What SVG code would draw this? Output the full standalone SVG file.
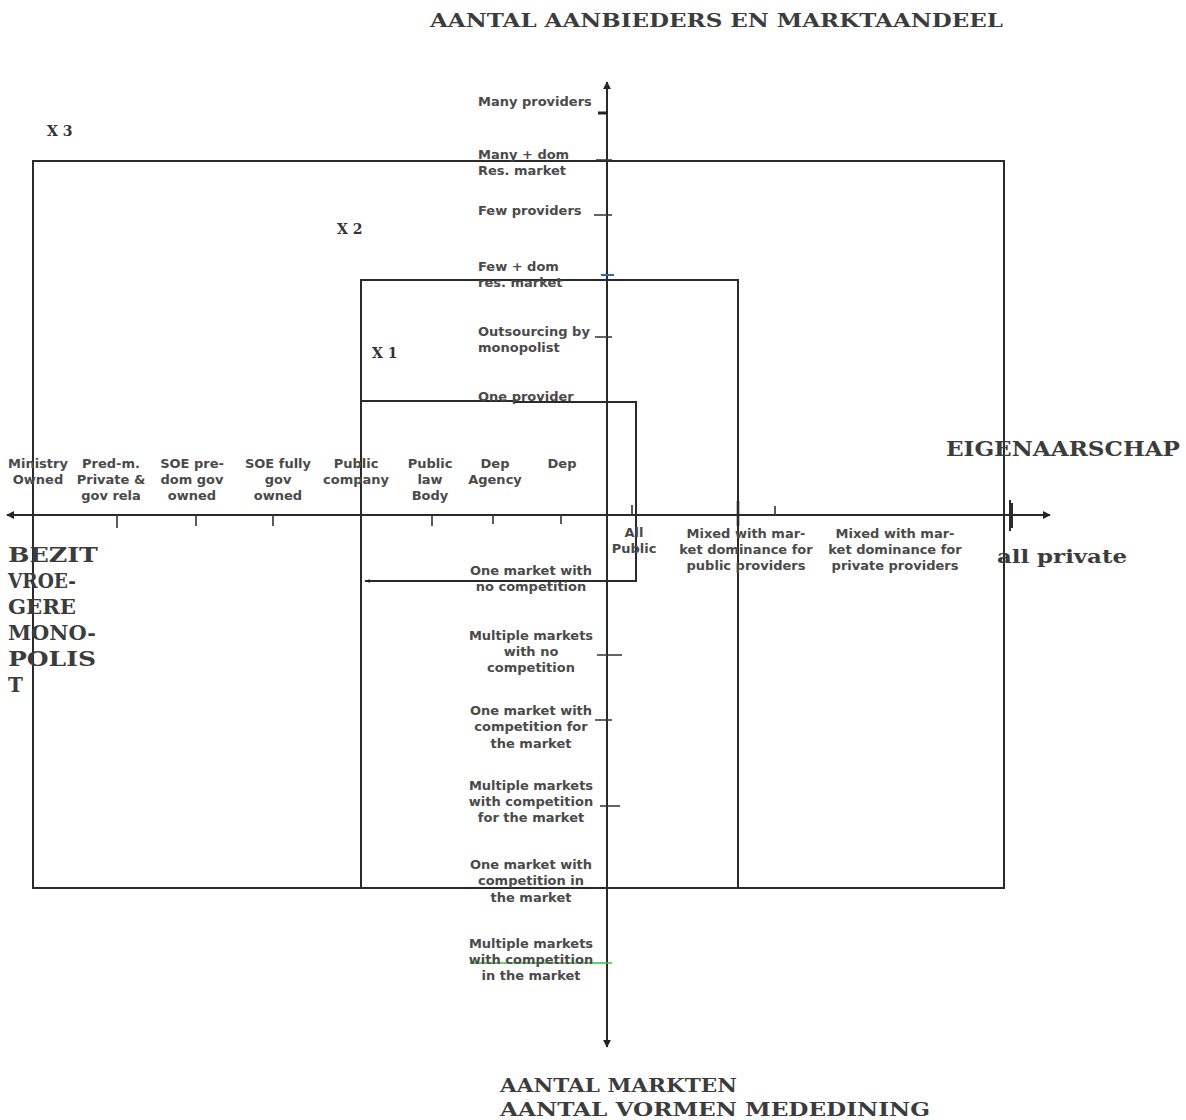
<svg xmlns="http://www.w3.org/2000/svg" width="1186" height="1120" viewBox="0 0 1186 1120">
<defs>
<style>
.bg{fill:#ffffff}
.ln{stroke:#2a2a2a;stroke-width:2;fill:none}
.tk{stroke:#333;stroke-width:1.6;fill:none}
.lbl{font-family:"DejaVu Sans","Liberation Sans",sans-serif;font-size:13px;font-weight:bold;fill:#4a4a4a}
.mid{text-anchor:middle}
.big{font-family:"DejaVu Serif","Liberation Serif",serif;font-weight:bold;fill:#3c3c3c}
.xl{font-family:"DejaVu Serif","Liberation Serif",serif;font-weight:bold;font-size:14px;fill:#333}
</style>
<marker id="ah" viewBox="0 0 10 10" refX="9" refY="5" markerWidth="8" markerHeight="8" orient="auto" markerUnits="userSpaceOnUse">
<path d="M0,0 L10,5 L0,10 z" fill="#222"/>
</marker>
<marker id="ahs" viewBox="0 0 10 10" refX="9" refY="5" markerWidth="6" markerHeight="6" orient="auto" markerUnits="userSpaceOnUse">
<path d="M0,2 L10,5 L0,8 z" fill="#222"/>
</marker>
</defs>
<rect class="bg" x="0" y="0" width="1186" height="1120"/>

<g id="connectors">
<!-- axes -->
<line class="ln" x1="607" y1="1046" x2="607" y2="82" marker-end="url(#ah)"/>
<line class="ln" x1="607" y1="84" x2="607" y2="1047" marker-end="url(#ah)"/>
<line class="ln" x1="1049" y1="515" x2="7" y2="515" marker-end="url(#ah)"/>
<line class="ln" x1="9" y1="515" x2="1050" y2="515" marker-end="url(#ah)"/>
<!-- boxes -->
<rect class="ln" x="33" y="161" width="971" height="727"/>
<rect class="ln" x="361" y="280" width="377" height="608"/>
<path class="ln" d="M362 401 L515 401 L515 402 L636 402 L636 581 L365 581" marker-end="url(#ahs)"/>
<!-- horizontal ticks -->
<path class="tk" d="M117 515 V528 M196 515 V526 M273 515 V526 M432 515 V526 M493 515 V524 M561 515 V524 M632 505 V516 M775 506 V516"/>
<path class="ln" d="M738 501 V526" style="stroke-width:2.6"/>
<path class="ln" d="M1010 500 V531 M1012 503 V528"/>
<!-- vertical ticks -->
<path class="tk" d="M596 160 H612 M594 215 H612 M595 337 H612 M597 655 H622 M595 720 H612 M600 806 H620"/>
<line x1="601" y1="275" x2="614" y2="275" stroke="#3a62b8" stroke-width="2"/>
<line x1="470" y1="963" x2="612" y2="963" stroke="#3cbf3c" stroke-width="1.5"/>
<line x1="598" y1="113" x2="607" y2="113" stroke="#222" stroke-width="3"/>
</g>

<g id="title-top"><text class="big" x="430" y="27" font-size="18" textLength="573" lengthAdjust="spacingAndGlyphs">AANTAL AANBIEDERS  EN  MARKTAANDEEL</text></g>
<g id="title-bottom">
<text class="big" x="500" y="1092" font-size="18" textLength="237" lengthAdjust="spacingAndGlyphs">AANTAL MARKTEN</text>
<text class="big" x="500" y="1116" font-size="18" textLength="430" lengthAdjust="spacingAndGlyphs">AANTAL VORMEN MEDEDINING</text>
</g>
<g id="eigenaarschap"><text class="big" x="946" y="456" font-size="20" textLength="234" lengthAdjust="spacingAndGlyphs">EIGENAARSCHAP</text></g>
<g id="all-private"><text class="big" x="997" y="563" font-size="18" textLength="130" lengthAdjust="spacingAndGlyphs">all private</text></g>
<g id="bezit">
<text class="big" font-size="20" x="8" y="562" textLength="90" lengthAdjust="spacingAndGlyphs">BEZIT</text>
<text class="big" font-size="20" x="8" y="588" textLength="68" lengthAdjust="spacingAndGlyphs">VROE-</text>
<text class="big" font-size="20" x="8" y="614" textLength="68" lengthAdjust="spacingAndGlyphs">GERE</text>
<text class="big" font-size="20" x="8" y="640" textLength="88" lengthAdjust="spacingAndGlyphs">MONO-</text>
<text class="big" font-size="20" x="8" y="666" textLength="88" lengthAdjust="spacingAndGlyphs">POLIS</text>
<text class="big" font-size="20" x="8" y="692">T</text>
</g>
<g id="x3"><text class="xl" x="47" y="136">X 3</text></g>
<g id="x2"><text class="xl" x="337" y="234">X 2</text></g>
<g id="x1"><text class="xl" x="372" y="358" font-size="12">X 1</text></g>

<!-- vertical axis upper labels -->
<g id="v-many"><text class="lbl" x="478" y="106">Many providers</text></g>
<g id="v-many-dom"><text class="lbl" x="478" y="159">Many + dom</text><text class="lbl" x="478" y="175">Res. market</text></g>
<g id="v-few"><text class="lbl" x="478" y="215">Few providers</text></g>
<g id="v-few-dom"><text class="lbl" x="478" y="271">Few + dom</text><text class="lbl" x="478" y="287">res. market</text></g>
<g id="v-outsourcing"><text class="lbl" x="478" y="336">Outsourcing by</text><text class="lbl" x="478" y="352">monopolist</text></g>
<g id="v-one"><text class="lbl" x="478" y="401">One provider</text></g>

<!-- vertical axis lower labels -->
<g id="v-m1"><text class="lbl mid" x="531" y="575">One market with</text><text class="lbl mid" x="531" y="591">no competition</text></g>
<g id="v-m2"><text class="lbl mid" x="531" y="640">Multiple markets</text><text class="lbl mid" x="531" y="656">with no</text><text class="lbl mid" x="531" y="672">competition</text></g>
<g id="v-m3"><text class="lbl mid" x="531" y="715">One market with</text><text class="lbl mid" x="531" y="731">competition for</text><text class="lbl mid" x="531" y="748">the market</text></g>
<g id="v-m4"><text class="lbl mid" x="531" y="790">Multiple markets</text><text class="lbl mid" x="531" y="806">with competition</text><text class="lbl mid" x="531" y="822">for the market</text></g>
<g id="v-m5"><text class="lbl mid" x="531" y="869">One market with</text><text class="lbl mid" x="531" y="885">competition in</text><text class="lbl mid" x="531" y="902">the market</text></g>
<g id="v-m6"><text class="lbl mid" x="531" y="948">Multiple markets</text><text class="lbl mid" x="531" y="964">with competition</text><text class="lbl mid" x="531" y="980">in the market</text></g>

<!-- horizontal axis labels -->
<g id="h-ministry"><text class="lbl mid" x="38" y="468">Ministry</text><text class="lbl mid" x="38" y="484">Owned</text></g>
<g id="h-predm"><text class="lbl mid" x="111" y="468">Pred-m.</text><text class="lbl mid" x="111" y="484">Private &amp;</text><text class="lbl mid" x="111" y="500">gov rela</text></g>
<g id="h-soe-pre"><text class="lbl mid" x="192" y="468">SOE pre-</text><text class="lbl mid" x="192" y="484">dom gov</text><text class="lbl mid" x="192" y="500">owned</text></g>
<g id="h-soe-fully"><text class="lbl mid" x="278" y="468">SOE fully</text><text class="lbl mid" x="278" y="484">gov</text><text class="lbl mid" x="278" y="500">owned</text></g>
<g id="h-public-company"><text class="lbl mid" x="356" y="468">Public</text><text class="lbl mid" x="356" y="484">company</text></g>
<g id="h-public-law"><text class="lbl mid" x="430" y="468">Public</text><text class="lbl mid" x="430" y="484">law</text><text class="lbl mid" x="430" y="500">Body</text></g>
<g id="h-dep-agency"><text class="lbl mid" x="495" y="468">Dep</text><text class="lbl mid" x="495" y="484">Agency</text></g>
<g id="h-dep"><text class="lbl mid" x="562" y="468">Dep</text></g>
<g id="h-all-public"><text class="lbl mid" x="634" y="537">All</text><text class="lbl mid" x="634" y="553">Public</text></g>
<g id="h-mixed-public"><text class="lbl mid" x="746" y="538">Mixed with mar-</text><text class="lbl mid" x="746" y="554">ket dominance for</text><text class="lbl mid" x="746" y="570">public providers</text></g>
<g id="h-mixed-private"><text class="lbl mid" x="895" y="538">Mixed with mar-</text><text class="lbl mid" x="895" y="554">ket dominance for</text><text class="lbl mid" x="895" y="570">private providers</text></g>
</svg>
